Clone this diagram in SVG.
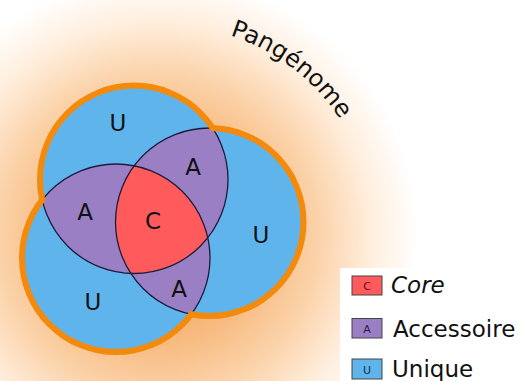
<svg xmlns="http://www.w3.org/2000/svg" xmlns:xlink="http://www.w3.org/1999/xlink" width="523" height="381" viewBox="0 0 523 381">
<style>
.lbl{font-family:"DejaVu Sans",sans-serif;font-size:23px;fill:#111;text-anchor:middle}
.leg{font-family:"DejaVu Sans",sans-serif;font-size:23px;fill:#111}
.box{stroke:#444;stroke-width:1}
.bl{font-family:"DejaVu Sans",sans-serif;font-size:11px;text-anchor:middle}
.edge{fill:none;stroke:#1c1c3a;stroke-width:1.3}
</style>
<defs>
<radialGradient id="glow" gradientUnits="userSpaceOnUse" cx="158" cy="235" r="260">
<stop offset="0" stop-color="#f3a050"/>
<stop offset="0.4" stop-color="#f7b97e"/>
<stop offset="0.62" stop-color="#fbd3aa"/>
<stop offset="0.82" stop-color="#ffeedd"/>
<stop offset="1" stop-color="#ffffff"/>
</radialGradient>
<clipPath id="cT"><circle cx="134" cy="179.5" r="94"/></clipPath>
<clipPath id="cR"><circle cx="209.5" cy="222" r="94"/></clipPath>
<clipPath id="cB"><circle cx="116" cy="258" r="94"/></clipPath>
<mask id="ring" maskUnits="userSpaceOnUse" x="0" y="0" width="523" height="381">
<rect width="523" height="381" fill="#000"/>
<circle cx="134" cy="179.5" r="97" fill="#fff"/>
<circle cx="209.5" cy="222" r="97" fill="#fff"/>
<circle cx="116" cy="258" r="97" fill="#fff"/>
<circle cx="134" cy="179.5" r="91" fill="#000"/>
<circle cx="209.5" cy="222" r="91" fill="#000"/>
<circle cx="116" cy="258" r="91" fill="#000"/>
</mask>
<path id="arc" d="M229.9,35.3 A210,210 0 0,1 362.3,163.2"/>
</defs>
<rect width="523" height="381" fill="#fff"/>
<rect width="523" height="381" fill="url(#glow)"/>
<g id="set-top"><circle cx="134" cy="179.5" r="94" fill="#5fb4ec"/></g>
<g id="set-right"><circle cx="209.5" cy="222" r="94" fill="#5fb4ec"/></g>
<g id="set-bottom"><circle cx="116" cy="258" r="94" fill="#5fb4ec"/></g>
<g id="accessory-regions" fill="#9b7fc4">
<circle cx="134" cy="179.5" r="94" clip-path="url(#cR)"/>
<circle cx="134" cy="179.5" r="94" clip-path="url(#cB)"/>
<circle cx="209.5" cy="222" r="94" clip-path="url(#cB)"/>
</g>
<g id="core-region" clip-path="url(#cB)"><circle cx="134" cy="179.5" r="94" fill="#ff5b5d" clip-path="url(#cR)"/></g>
<g id="boundaries">
<circle class="edge" cx="134" cy="179.5" r="94"/>
<circle class="edge" cx="209.5" cy="222" r="94"/>
<circle class="edge" cx="116" cy="258" r="94"/>
</g>
<rect id="outline" width="523" height="381" fill="#f48a0c" mask="url(#ring)"/>
<g id="labels">
<text class="lbl" x="118" y="131">U</text>
<text class="lbl" x="193" y="175">A</text>
<text class="lbl" x="85" y="220">A</text>
<text class="lbl" x="153" y="229">C</text>
<text class="lbl" x="261" y="243">U</text>
<text class="lbl" x="179" y="297">A</text>
<text class="lbl" x="93" y="310">U</text>
</g>
<g id="title"><text style="font-family:'DejaVu Sans',sans-serif;font-size:24px;fill:#111"><textPath xlink:href="#arc" href="#arc">Pangénome</textPath></text></g>
<g id="legend">
<rect x="340" y="268" width="183" height="113" fill="#fff"/>
<g id="legend-core">
<rect class="box" x="352" y="276" width="30" height="19" fill="#ff5b5d"/>
<text class="bl" x="367" y="290" fill="#5a1010">C</text>
<text class="leg" x="391" y="293" font-style="italic">Core</text>
</g>
<g id="legend-accessoire">
<rect class="box" x="352" y="318.5" width="30" height="19.5" fill="#9b7fc4"/>
<text class="bl" x="367" y="332.5" fill="#2a1a40">A</text>
<text class="leg" x="393" y="337">Accessoire</text>
</g>
<g id="legend-unique">
<rect class="box" x="352" y="359" width="30" height="20" fill="#5fb4ec"/>
<text class="bl" x="367" y="373.5" fill="#10304a">U</text>
<text class="leg" x="392" y="377">Unique</text>
</g>
</g>
</svg>
